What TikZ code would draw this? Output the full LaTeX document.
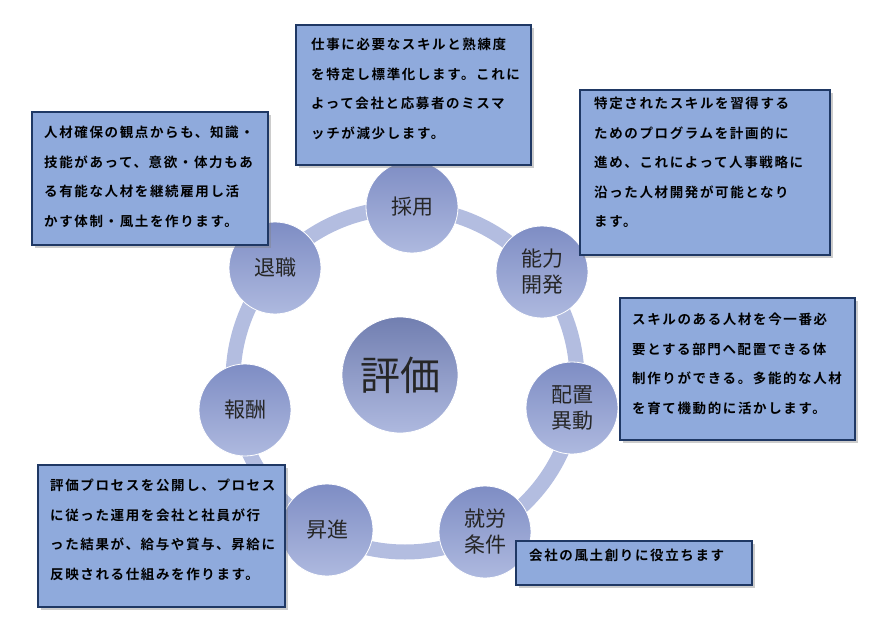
\documentclass[tikz,border=0pt]{standalone}
\usepackage{fontspec}
\setmainfont{Noto Sans CJK JP}
\newfontfamily\jpb[LetterSpace=12]{Noto Sans CJK JP Bold}
\newfontfamily\jpc{Noto Sans CJK JP}
\usetikzlibrary{shadows}
\definecolor{boxfill}{HTML}{8FAADC}
\definecolor{boxline}{HTML}{1F3864}
\definecolor{ringc}{HTML}{B3BDE0}
\definecolor{ctop}{HTML}{7E8DC4}
\definecolor{cbot}{HTML}{AEB9DF}
\tikzset{
 infobox/.style={draw=boxline,line width=1.2pt,fill=boxfill,drop shadow={shadow xshift=3pt,shadow yshift=-3pt,opacity=0.4}},
 infotext/.style={anchor=north west,align=left,font=\jpb\fontsize{13.5}{29.5}\selectfont,inner sep=0pt},
 stage/.style={circle,minimum size=92pt,inner sep=0pt,draw=white,line width=0.8pt,top color=ctop,bottom color=cbot,align=center,font=\jpc\fontsize{21}{26}\selectfont,text=black!85},
}
\begin{document}
\begin{tikzpicture}[x=1pt,y=-1pt]
\useasboundingbox (0,0) rectangle (881,623);
\draw[ringc,line width=15pt] (405,380) circle (172);
\node[stage,minimum size=116pt,font=\jpc\fontsize{40}{44}\selectfont,top color=ctop!90!black,bottom color=cbot] (c) at (400,375) {評価};
\node[stage] (s1) at (412,207) {採用};
\node[stage] (s2) at (542,272) {能力\\開発};
\node[stage] (s3) at (572,408) {配置\\異動};
\node[stage] (s4) at (485,532) {就労\\条件};
\node[stage] (s5) at (327,530) {昇進};
\node[stage] (s6) at (245,410) {報酬};
\node[stage] (s7) at (275,268) {退職};

\draw[infobox] (296,25) rectangle (531,165);
\node[infotext] (t1) at (311,38) {仕事に必要なスキルと熟練度\\を特定し標準化します。これに\\よって会社と応募者のミスマ\\ッチが減少します。};
\draw[infobox] (580,90) rectangle (830,255);
\node[infotext] (t2) at (594,97) {特定されたスキルを習得する\\ためのプログラムを計画的に\\進め、これによって人事戦略に\\沿った人材開発が可能となり\\ます。};
\draw[infobox] (32,112) rectangle (268,245);
\node[infotext] (t3) at (44,126) {人材確保の観点からも、知識・\\技能があって、意欲・体力もあ\\る有能な人材を継続雇用し活\\かす体制・風土を作ります。};
\draw[infobox] (620,298) rectangle (855,440);
\node[infotext] (t4) at (632,313) {スキルのある人材を今一番必\\要とする部門へ配置できる体\\制作りができる。多能的な人材\\を育て機動的に活かします。};
\draw[infobox] (38,465) rectangle (285,607);
\node[infotext] (t5) at (50,479) {評価プロセスを公開し、プロセス\\に従った運用を会社と社員が行\\った結果が、給与や賞与、昇給に\\反映される仕組みを作ります。};
\draw[infobox] (516,541) rectangle (752,585);
\node[infotext] (t6) at (529,549) {会社の風土創りに役立ちます};
\end{tikzpicture}
\end{document}
